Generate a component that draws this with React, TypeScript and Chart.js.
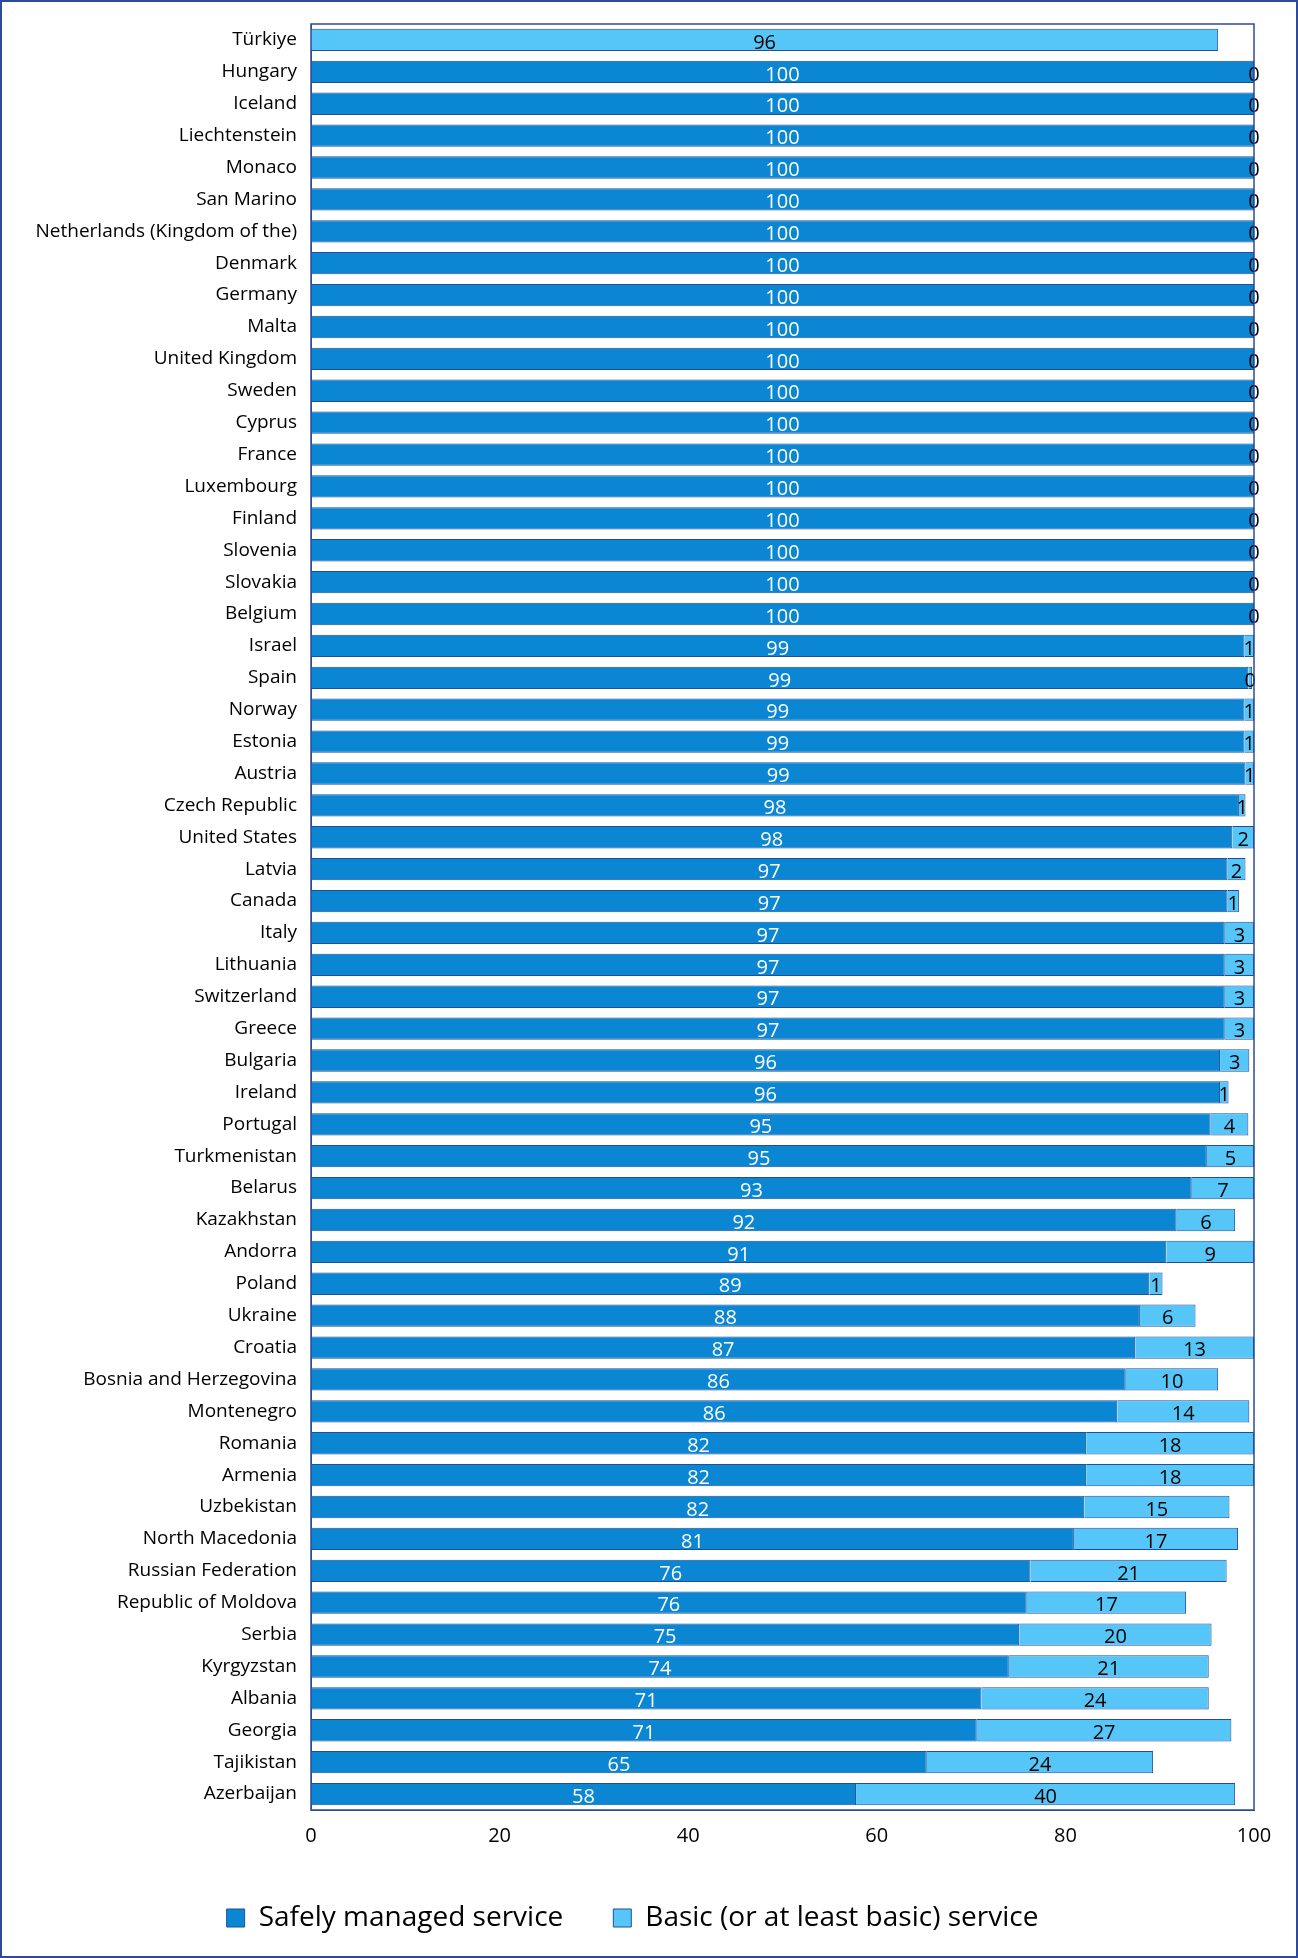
import React, { useEffect, useRef } from "react";
import { Chart, registerables } from "chart.js";
Chart.register(...registerables);

const countries = ["Türkiye","Hungary","Iceland","Liechtenstein","Monaco","San Marino","Netherlands (Kingdom of the)","Denmark","Germany","Malta","United Kingdom","Sweden","Cyprus","France","Luxembourg","Finland","Slovenia","Slovakia","Belgium","Israel","Spain","Norway","Estonia","Austria","Czech Republic","United States","Latvia","Canada","Italy","Lithuania","Switzerland","Greece","Bulgaria","Ireland","Portugal","Turkmenistan","Belarus","Kazakhstan","Andorra","Poland","Ukraine","Croatia","Bosnia and Herzegovina","Montenegro","Romania","Armenia","Uzbekistan","North Macedonia","Russian Federation","Republic of Moldova","Serbia","Kyrgyzstan","Albania","Georgia","Tajikistan","Azerbaijan"];
const safely: (number | null)[] = [null,100,100,100,100,100,100,100,100,100,100,100,100,100,100,100,100,100,100,99,99.4,99,99,99.1,98.4,97.7,97.2,97.2,96.9,96.9,96.9,96.9,96.4,96.4,95.4,95,93.4,91.8,90.7,88.9,87.9,87.4,86.4,85.5,82.2,82.2,82,80.9,76.3,75.9,75.1,74,71.1,70.6,65.3,57.8];
const basic: number[] = [96.2,0,0,0,0,0,0,0,0,0,0,0,0,0,0,0,0,0,0,1,0.4,1,1,0.9,0.7,2.3,1.9,1.2,3.1,3.1,3.1,3.1,3.1,0.9,4,5,6.6,6.2,9.3,1.4,5.9,12.6,9.8,14,17.8,17.8,15.4,17.4,20.8,16.9,20.4,21.2,24.1,27,24,40.2];
const xTicks = [0, 20, 40, 60, 80, 100];

const FONT = "'Open Sans', 'Liberation Sans', sans-serif";

const labelPlugin = {
  id: "segLabels",
  afterDatasetsDraw(chart: any) {
    const ctx = chart.ctx;
    ctx.save();
    ctx.font = `20px ${FONT}`;
    ctx.textAlign = "center";
    ctx.textBaseline = "middle";
    chart.data.datasets.forEach((ds: any, di: number) => {
      const meta = chart.getDatasetMeta(di);
      meta.data.forEach((el: any, i: number) => {
        const v = ds.data[i];
        if (v === null || v === undefined) return;
        const { x, base, y } = el.getProps(["x", "base", "y"], true);
        const cx = (x + base) / 2;
        ctx.fillStyle = di === 0 ? "#ffffff" : "#000000";
        ctx.fillText(String(Math.round(v)), cx, y + 3);
      });
    });
    ctx.restore();
  },
};

const framePlugin = {
  id: "frame",
  afterDraw(chart: any) {
    const a = chart.chartArea;
    const ctx = chart.ctx;
    ctx.save();
    ctx.strokeStyle = "#2e4a9a";
    ctx.lineWidth = 1.5;
    ctx.strokeRect(a.left, a.top, a.right - a.left, a.bottom - a.top);
    ctx.restore();
  },
};

export default function App() {
  const ref = useRef<HTMLCanvasElement>(null);
  useEffect(() => {
    const chart = new Chart(ref.current!, {
      type: "bar",
      data: {
        labels: countries,
        datasets: [
          { label: "Safely managed service", data: safely, backgroundColor: "#0a86d2", borderColor: "#1f4f9c", borderWidth: 1, categoryPercentage: 0.7, barPercentage: 1 },
          { label: "Basic (or at least basic) service", data: basic, backgroundColor: "#55c6f7", borderColor: "#1f4f9c", borderWidth: 1, categoryPercentage: 0.7, barPercentage: 1 },
        ],
      },
      options: {
        indexAxis: "y",
        animation: false,
        responsive: false,
        layout: { padding: { left: 9, right: 42, top: 22, bottom: 14 } },
        scales: {
          x: {
            stacked: true, min: 0, max: 100,
            afterBuildTicks: (s: any) => { s.ticks = xTicks.map((v) => ({ value: v })); },
            grid: { display: false, drawTicks: true, tickLength: 8, color: "#2e4a9a" },
            border: { color: "#2e4a9a" },
            ticks: { color: "#000", font: { size: 20, family: FONT }, padding: 6 },
          },
          y: {
            stacked: true,
            grid: { display: false, tickLength: 6 },
            border: { color: "#2e4a9a" },
            ticks: { color: "#000", font: { size: 19, family: FONT }, autoSkip: false, padding: 8 },
            afterFit: (s: any) => { s.width = 300; },
          },
        },
        plugins: {
          tooltip: { enabled: false },
          legend: {
            position: "bottom",
            labels: { color: "#000", font: { size: 28, family: FONT }, boxWidth: 18, boxHeight: 18, padding: 50 },
          },
        },
      },
      plugins: [labelPlugin, framePlugin],
    });
    return () => chart.destroy();
  }, []);
  return (
    <div style={{ position: "absolute", left: 0, top: 0, width: 1298, height: 1958, boxSizing: "border-box", border: "2px solid #2e4a9a", background: "#fff" }}>
      <canvas ref={ref} width={1294} height={1954} />
    </div>
  );
}
